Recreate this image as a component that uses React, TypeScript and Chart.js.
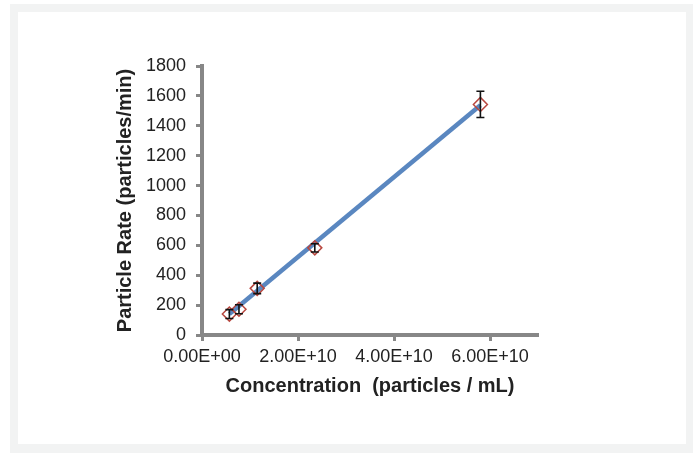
import React, { useEffect, useRef } from "react";
import { Chart, registerables } from "chart.js";

Chart.register(...registerables);

const concentrations = [0.57e10, 0.77e10, 1.15e10, 2.35e10, 5.8e10];
const rates = [140, 172, 312, 583, 1543];
const rateErrors = [30, 30, 35, 28, 88];
const trendX = [0.57e10, 5.8e10];
const trendY = [140, 1538];
const xTicks = [0, 2e10, 4e10, 6e10];
const yTicks = [0, 200, 400, 600, 800, 1000, 1200, 1400, 1600, 1800];

function fmtExp(v: number): string {
  const s = v.toExponential(2).toUpperCase();
  const m = s.match(/^(.*)E([+-])(\d+)$/);
  if (!m) return s;
  return `${m[1]}E${m[2]}${m[3].padStart(2, "0")}`;
}

const errorBarPlugin = {
  id: "errorBars",
  afterDatasetsDraw(chart: any) {
    const ctx = chart.ctx;
    const xs = chart.scales.x;
    const ys = chart.scales.y;
    ctx.save();
    ctx.strokeStyle = "#111111";
    ctx.lineWidth = 1.6;
    for (let i = 0; i < concentrations.length; i++) {
      const px = xs.getPixelForValue(concentrations[i]);
      const top = ys.getPixelForValue(rates[i] + rateErrors[i]);
      const bot = ys.getPixelForValue(rates[i] - rateErrors[i]);
      ctx.beginPath();
      ctx.moveTo(px, top);
      ctx.lineTo(px, bot);
      ctx.moveTo(px - 4, top);
      ctx.lineTo(px + 4, top);
      ctx.moveTo(px - 4, bot);
      ctx.lineTo(px + 4, bot);
      ctx.stroke();
    }
    ctx.restore();
  },
};

export default function App() {
  const ref = useRef<HTMLCanvasElement | null>(null);
  useEffect(() => {
    if (!ref.current) return;
    const font = "'Liberation Sans', Arial, sans-serif";
    const chart = new Chart(ref.current, {
      type: "scatter",
      data: {
        datasets: [
          {
            type: "scatter",
            label: "Measured",
            data: concentrations.map((c, i) => ({ x: c, y: rates[i] })),
            pointStyle: "rectRot",
            pointRadius: 7,
            pointBackgroundColor: "rgba(255,255,255,0)",
            pointBorderColor: "#b8473f",
            pointBorderWidth: 1.5,
            order: 1,
          },
          {
            type: "line",
            label: "Fit",
            data: trendX.map((c, i) => ({ x: c, y: trendY[i] })),
            borderColor: "#5a87c0",
            borderWidth: 4.5,
            pointRadius: 0,
            showLine: true,
            fill: false,
            order: 2,
          },
        ],
      },
      options: {
        animation: false,
        responsive: false,
        maintainAspectRatio: false,
        layout: { padding: { left: 113, right: 156, top: 66, bottom: 55 } },
        plugins: { legend: { display: false }, tooltip: { enabled: false } },
        scales: {
          x: {
            type: "linear",
            min: 0,
            max: 7e10,
            afterFit: (s: any) => { s.height = 63; },
            afterBuildTicks: (s: any) => { s.ticks = xTicks.map((v) => ({ value: v })); },
            border: { color: "#878787", width: 4 },
            grid: { drawOnChartArea: false, drawTicks: true, tickLength: 6, tickWidth: 3, color: "#878787" },
            ticks: {
              color: "#222222",
              font: { family: font, size: 18 },
              padding: 5,
              maxRotation: 0,
              callback: (v: any) => fmtExp(Number(v)),
            },
            title: {
              display: true,
              text: "Concentration  (particles / mL)",
              color: "#222222",
              font: { family: font, size: 20, weight: "bold" },
              padding: { top: 0, bottom: 0 },
            },
          },
          y: {
            type: "linear",
            min: 0,
            max: 1800,
            afterFit: (s: any) => { s.width = 89; },
            afterBuildTicks: (s: any) => { s.ticks = yTicks.map((v) => ({ value: v })); },
            border: { color: "#878787", width: 4 },
            grid: { drawOnChartArea: false, drawTicks: true, tickLength: 6, tickWidth: 3, color: "#878787" },
            ticks: {
              color: "#222222",
              font: { family: font, size: 18 },
              padding: 10,
              callback: (v: any) => String(v),
            },
            title: {
              display: true,
              text: "Particle Rate (particles/min)",
              color: "#222222",
              font: { family: font, size: 20, weight: "bold" },
              padding: { top: 0, bottom: 0 },
            },
          },
        },
      },
      plugins: [errorBarPlugin],
    } as any);
    return () => chart.destroy();
  }, []);

  return (
    <div style={{ position: "fixed", left: 0, top: 0, width: 694, height: 453, background: "#ffffff" }}>
      <div style={{ position: "absolute", left: 10, top: 4, width: 683, height: 449, background: "#f2f3f3" }} />
      <div style={{ position: "absolute", left: 18, top: 12, width: 668, height: 432, background: "#ffffff" }} />
      <canvas ref={ref} width={694} height={453} style={{ position: "absolute", left: 0, top: 0, width: 694, height: 453 }} />
    </div>
  );
}
